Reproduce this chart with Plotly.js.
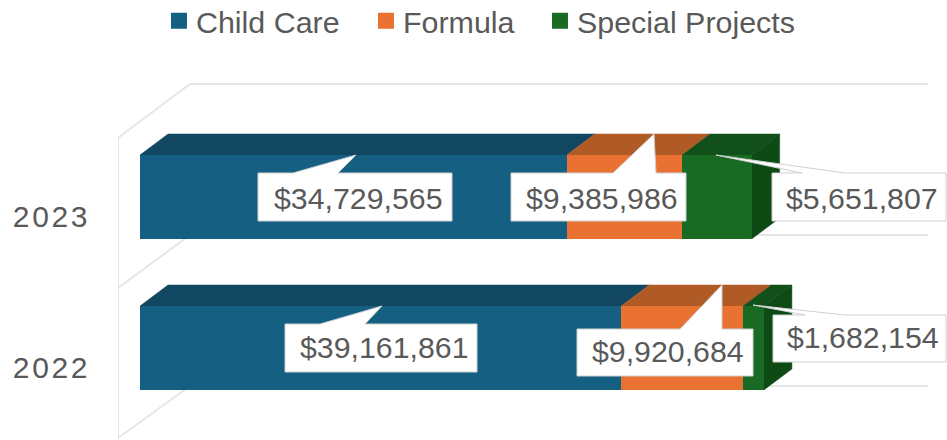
<!DOCTYPE html>
<html>
<head>
<meta charset="utf-8">
<script src="https://cdn.plot.ly/plotly-3.0.1.min.js"></script>
<style>
html,body{margin:0;padding:0;background:#fff;}
#chart{width:947px;height:440px;}
.ytick text{letter-spacing:2.6px;}
.legendpoints path{transform:translate(23px,0) scale(1.33);}
</style>
</head>
<body>
<div id="chart"></div>
<script>
// ---- data ----
var years = ["2022", "2023"];
var childCare = [39161861, 34729565];
var formula = [9920684, 9385986];
var specialProjects = [1682154, 5651807];
var seriesNames = ["Child Care", "Formula", "Special Projects"];

// ---- colours ----
var frontColors = ["#156082", "#E97132", "#196B24"];
var topColors = ["#124761", "#B05A25", "#11501A"];
var sideColor = "#0E4A14";
var wallColor = "#E6E6E6";
var textColor = "#595959";

// ---- pixel frame of the pseudo-3D drawing ----
var W = 947, H = 440, marginL = 118;
var zeroPx = 140, pxPerDollar = 12.29e-6;
var row0Px = 348, rowStepPx = 151, barHeightPx = 84;
var depthX = 28, depthY = 21;

var xRange = [(marginL - zeroPx) / pxPerDollar, (W - zeroPx) / pxPerDollar];
var yRange = [(row0Px - H) / rowStepPx, row0Px / rowStepPx];
function dx(px) { return (px - zeroPx) / pxPerDollar; }
function dy(py) { return (row0Px - py) / rowStepPx; }
var barWidth = barHeightPx / rowStepPx;
var depthXData = depthX / pxPerDollar;
var depthYData = depthY / rowStepPx;

var allSeries = [childCare, formula, specialProjects];
var rows = years.map(function (_, i) { return i; });
var legendIds = ["legend", "legend2", "legend3"];

// ---- bars ----
var traces = allSeries.map(function (vals, s) {
  return {
    type: "bar", orientation: "h", name: seriesNames[s], legend: legendIds[s],
    y: rows, x: vals, width: barWidth,
    marker: { color: frontColors[s], line: { width: 0 } },
    hoverinfo: "skip"
  };
});

function poly(points, color, layer, lineColor, lineWidth) {
  return {
    type: "path", xref: "x", yref: "y", layer: layer,
    path: "M" + points.map(function (p) { return p[0] + "," + p[1]; }).join(" L") + " Z",
    fillcolor: color,
    line: { color: lineColor || color, width: lineWidth === undefined ? 0.5 : lineWidth }
  };
}
function wallLine(x0, y0, x1, y1) {
  return {
    type: "line", xref: "x", yref: "y", layer: "below",
    x0: dx(x0), y0: dy(y0), x1: dx(x1), y1: dy(y1),
    line: { color: wallColor, width: 2 }
  };
}

// ---- walls ----
var shapes = [
  wallLine(118, 138, 118, 440),
  wallLine(118, 138, 190, 84),
  wallLine(118, 288, 190, 235),
  wallLine(118, 438, 190, 386),
  wallLine(190, 84, 928, 84),
  wallLine(190, 235, 928, 235),
  wallLine(190, 386, 928, 386)
];

// ---- depth faces derived from the values ----
rows.forEach(function (r) {
  var start = 0, top = r + barWidth / 2, bottom = r - barWidth / 2;
  allSeries.forEach(function (vals, s) {
    var end = start + vals[r];
    shapes.push(poly([[start, top], [start + depthXData, top + depthYData],
      [end + depthXData, top + depthYData], [end, top]], topColors[s], "below"));
    start = end;
  });
  shapes.push(poly([[start, top], [start + depthXData, top + depthYData],
    [start + depthXData, bottom + depthYData], [start, bottom]], sideColor, "below"));
});

// ---- callouts: rect [x0,x1,y0,y1] and pointer [baseA, tipX, tipY, baseB], in pixels ----
var calloutRects = [
  [[285, 477, 324, 372], [577, 753, 329, 376], [773, 946, 315, 362]],
  [[258, 452, 173, 221], [511, 686, 173, 221], [772, 946, 173, 221]]
];
var calloutTips = [
  [[320, 382, 306, 365], [680, 722, 285, 722], [805, 753, 305, 845]],
  [[293, 356, 155, 338], [613, 654, 134, 656], [802, 716, 155, 845]]
];
var textShiftX = 3, textShiftY = [-1, 1];
var annotations = [];
rows.forEach(function (r) {
  allSeries.forEach(function (vals, s) {
    var b = calloutRects[r][s], t = calloutTips[r][s];
    var pts = [[b[0], b[2]], [t[0], b[2]], [t[1], t[2]], [t[3], b[2]],
      [b[1], b[2]], [b[1], b[3]], [b[0], b[3]]];
    shapes.push(poly(pts.map(function (p) { return [dx(p[0]), dy(p[1])]; }),
      "#FFFFFF", "above", "#CFCFCF", 1));
    annotations.push({
      xref: "x", yref: "y", showarrow: false,
      x: dx((b[0] + b[1]) / 2 + textShiftX), y: dy((b[2] + b[3]) / 2 + textShiftY[r]),
      text: "$" + vals[r].toLocaleString("en-US"),
      font: { family: "Liberation Sans, Arial, sans-serif", size: 30.3, color: textColor }
    });
  });
});

var tickDrop = 19 / rowStepPx;
var plotWidth = W - marginL;
function legendAt(px) {
  return {
    orientation: "h", x: (px - marginL) / plotWidth, xanchor: "left", y: 1 + 5.5 / H, yanchor: "top",
    bgcolor: "rgba(0,0,0,0)",
    font: { family: "Liberation Sans, Arial, sans-serif", size: 30.4, color: textColor }
  };
}

Plotly.newPlot("chart", traces, {
  width: W, height: H,
  margin: { l: marginL, r: 0, t: 0, b: 0, pad: 0, autoexpand: false },
  paper_bgcolor: "#FFFFFF", plot_bgcolor: "rgba(0,0,0,0)",
  barmode: "stack", bargap: 0,
  showlegend: true,
  legend: legendAt(156),
  legend2: legendAt(363),
  legend3: legendAt(537),
  xaxis: { range: xRange, visible: false, fixedrange: true },
  yaxis: {
    range: yRange, fixedrange: true, showgrid: false, zeroline: false, showline: false,
    tickmode: "array",
    tickvals: rows.map(function (r) { return r - tickDrop; }),
    ticktext: years,
    ticks: "", ticklabelstandoff: 27,
    tickfont: { family: "Liberation Sans, Arial, sans-serif", size: 30, color: textColor }
  },
  shapes: shapes,
  annotations: annotations
}, { displayModeBar: false, staticPlot: true });
</script>
</body>
</html>
